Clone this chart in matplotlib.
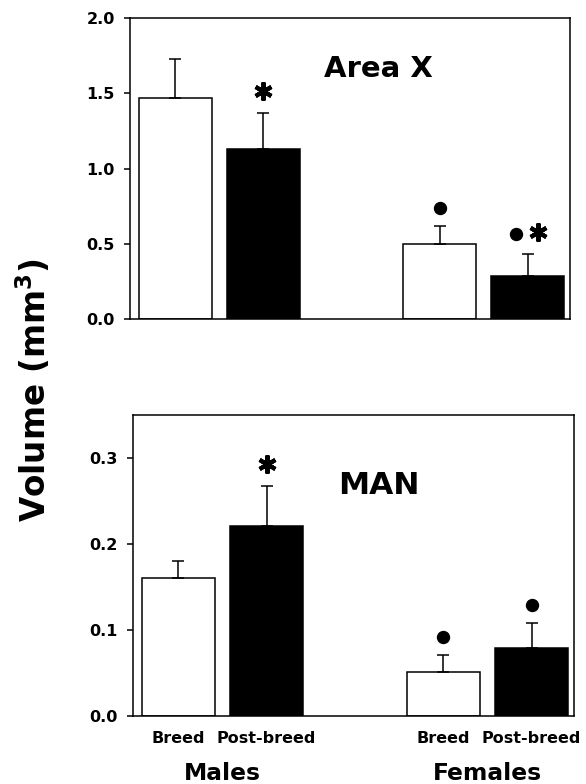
import matplotlib
matplotlib.use("Agg")
import matplotlib.pyplot as plt
import numpy as np
from matplotlib.markers import MarkerStyle
from matplotlib.transforms import ScaledTranslation, blended_transform_factory

plt.rcParams['font.family'] = ['DejaVu Sans']
plt.rcParams['font.weight'] = 'bold'
plt.rcParams['mathtext.default'] = 'bf'

# ---- data ----
conditions = ["Breed", "Post-breed", "Breed", "Post-breed"]
groups = ["Males", "Females"]
positions = [0, 1, 3, 4]
bar_colors = ["white", "black", "white", "black"]

areax_mean = [1.466, 1.128, 0.498, 0.286]
areax_err = [0.260, 0.243, 0.120, 0.146]
areax_marks = ["", "*", "o", "o*"]

man_mean = [0.160, 0.2215, 0.051, 0.0788]
man_err = [0.020, 0.0465, 0.0204, 0.0298]
man_marks = ["", "*", "o", "o"]

areax_ticks = [0.0, 0.5, 1.0, 1.5, 2.0]
man_ticks = [0.0, 0.1, 0.2, 0.3]

# ---- figure ----
W, H = 586, 784
fig = plt.figure(figsize=(W / 100, H / 100), dpi=100)

def px_axes(l, r, t, b):
    return fig.add_axes([l / W, 1 - b / H, (r - l) / W, (b - t) / H])

ax1 = px_axes(130, 570, 18, 319)
ax2 = px_axes(132.7, 574, 415, 716)

star_marker = MarkerStyle((6, 2, 0), capstyle='round')
STAR_MS, STAR_MEW = 13, 3.0

def draw_panel(ax, means, errs, marks, ticks, ylim, title, tx, ty, tsize):
    ax.bar(positions, means, width=0.83, color=bar_colors, edgecolor='black',
           linewidth=1.1, zorder=2)
    ax.errorbar(positions, means, yerr=[np.zeros(len(errs)), errs], fmt='none',
                ecolor='black', elinewidth=1.1, capsize=4.5, capthick=1.1, zorder=3)
    ax.set_xlim(-0.515, 4.48)
    ax.set_ylim(*ylim)
    ax.set_yticks(ticks)
    ax.set_yticklabels([f"{t:.1f}" for t in ticks], fontsize=11.5, fontweight='bold')
    ax.tick_params(axis='y', direction='out', length=4, width=1.1, pad=7)
    for s in ax.spines.values():
        s.set_linewidth(1.1)
    ax.text(tx, ty, title, transform=ax.transAxes, ha='center', va='center',
            fontsize=tsize, fontweight='bold')
    for x, m, e, mk in zip(positions, means, errs, marks):
        top = m + e
        if mk == "*":
            off = ScaledTranslation(0, 21.5 / 100, fig.dpi_scale_trans)
            ax.plot([x], [top], linestyle='none', marker=star_marker, markersize=STAR_MS,
                    mew=STAR_MEW, color='black', transform=ax.transData + off, clip_on=False)
        elif mk == "o":
            off = ScaledTranslation(0, 17.5 / 100, fig.dpi_scale_trans)
            ax.plot([x], [top], linestyle='none', marker='o', markersize=8.6,
                    color='black', transform=ax.transData + off, clip_on=False)
        elif mk == "o*":
            off_d = ScaledTranslation(-11.5 / 100, 19.5 / 100, fig.dpi_scale_trans)
            off_s = ScaledTranslation(10.5 / 100, 21.5 / 100, fig.dpi_scale_trans)
            ax.plot([x], [top], linestyle='none', marker='o', markersize=8.6,
                    color='black', transform=ax.transData + off_d, clip_on=False)
            ax.plot([x], [top], linestyle='none', marker=star_marker, markersize=STAR_MS,
                    mew=STAR_MEW, color='black', transform=ax.transData + off_s, clip_on=False)

draw_panel(ax1, areax_mean, areax_err, areax_marks, areax_ticks, (0, 2.0),
           "Area X", (378 - 130) / 440, (319 - 69) / 301, 21)
draw_panel(ax2, man_mean, man_err, man_marks, man_ticks, (0, 0.35),
           "MAN", (379 - 132.7) / 441.3, (716 - 486) / 301, 22.5)

ax1.set_xticks([])
ax2.set_xticks(positions)
ax2.set_xticklabels(conditions, fontsize=11.5, fontweight='bold')
ax2.tick_params(axis='x', length=0, pad=10.5)

trans = blended_transform_factory(ax2.transData, fig.transFigure)
group_centers = [np.mean(positions[0:2]), np.mean(positions[2:4])]
for gx, g in zip(group_centers, groups):
    ax2.text(gx, 1 - 780 / H, g, transform=trans, ha='center', va='baseline',
             fontsize=16.8, fontweight='bold')

fig.text(34 / W, 1 - 390 / H, r"Volume (mm$^3$)", rotation=90, ha='center',
         va='center', fontsize=23.5, fontweight='bold')

fig.savefig("out.png", dpi=100)
